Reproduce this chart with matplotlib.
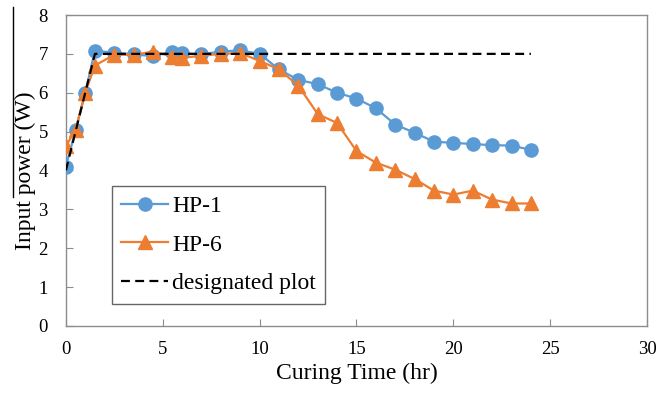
import matplotlib
matplotlib.use("Agg")
import matplotlib.pyplot as plt
from matplotlib.lines import Line2D

# Curing time (hr) and input power (W)
hp1_time = [0, 0.5, 1, 1.5, 2.5, 3.5, 4.5, 5.5, 6, 7, 8, 9, 10, 11, 12, 13,
            14, 15, 16, 17, 18, 19, 20, 21, 22, 23, 24]
hp1_power = [4.10, 5.03, 6.00, 7.08, 7.03, 6.99, 6.94, 7.06, 7.02, 6.99, 7.06,
             7.09, 7.00, 6.60, 6.33, 6.22, 6.00, 5.85, 5.60, 5.18, 4.97, 4.74,
             4.71, 4.68, 4.65, 4.64, 4.53]

hp6_time = [0, 0.5, 1, 1.5, 2.5, 3.5, 4.5, 5.5, 6, 7, 8, 9, 10, 11, 12, 13,
            14, 15, 16, 17, 18, 19, 20, 21, 22, 23, 24]
hp6_power = [4.62, 5.05, 6.00, 6.70, 6.98, 6.97, 7.06, 6.93, 6.90, 6.95, 7.00,
             7.02, 6.82, 6.60, 6.18, 5.45, 5.22, 4.50, 4.20, 4.02, 3.78, 3.48,
             3.38, 3.48, 3.25, 3.15, 3.15]

design_time = [0, 1.5, 24]
design_power = [4.0, 7.0, 7.0]

BLUE = "#5B9BD5"
ORANGE = "#ED7D31"
SERIF = ["Liberation Serif", "DejaVu Serif"]

plt.rcParams["font.family"] = SERIF

fig = plt.figure(figsize=(6.72, 3.95), dpi=100)
ax = fig.add_axes([0.098, 0.175, 0.865, 0.787])

ax.plot(hp1_time, hp1_power, color=BLUE, lw=1.6, marker="o", ms=9.5,
        label="HP-1", zorder=3)
ax.plot(hp6_time, hp6_power, color=ORANGE, lw=1.6, marker="^", ms=9.5,
        label="HP-6", zorder=4)
ax.plot(design_time, design_power, color="black", lw=1.6,
        dashes=(4, 2.4), label="designated plot", zorder=5)

ax.set_xlim(0, 30)
ax.set_ylim(0, 8)
ax.set_xticks(range(0, 31, 5))
ax.set_yticks(range(0, 9))

for side in ["left", "right", "top", "bottom"]:
    ax.spines[side].set_color("#8c8c8c")
    ax.spines[side].set_linewidth(1.0)
ax.tick_params(direction="in", length=5, color="#8c8c8c", labelsize=13.5,
               labelcolor="black")
ax.tick_params(axis="x", pad=11)
ax.tick_params(axis="y", pad=13)

ax.set_xlabel("Curing Time (hr)", fontsize=17, labelpad=3)
ax.set_ylabel("Input power (W)", fontsize=17, labelpad=2)

leg = ax.legend(loc="lower left", bbox_to_anchor=(0.079, 0.071),
                borderaxespad=0, fontsize=17, frameon=True, fancybox=False,
                handlelength=2.0, handletextpad=0.15, borderpad=0.4,
                labelspacing=0.73)
leg.get_frame().set_edgecolor("#404040")
leg.get_frame().set_linewidth(1.0)

# thin vertical rule at the left edge, as in the source image
fig.add_artist(Line2D([13 / 672, 13 / 672], [1 - 7 / 395, 1 - 197 / 395],
                      color="black", lw=1.0))

fig.savefig("out.png", dpi=100)
